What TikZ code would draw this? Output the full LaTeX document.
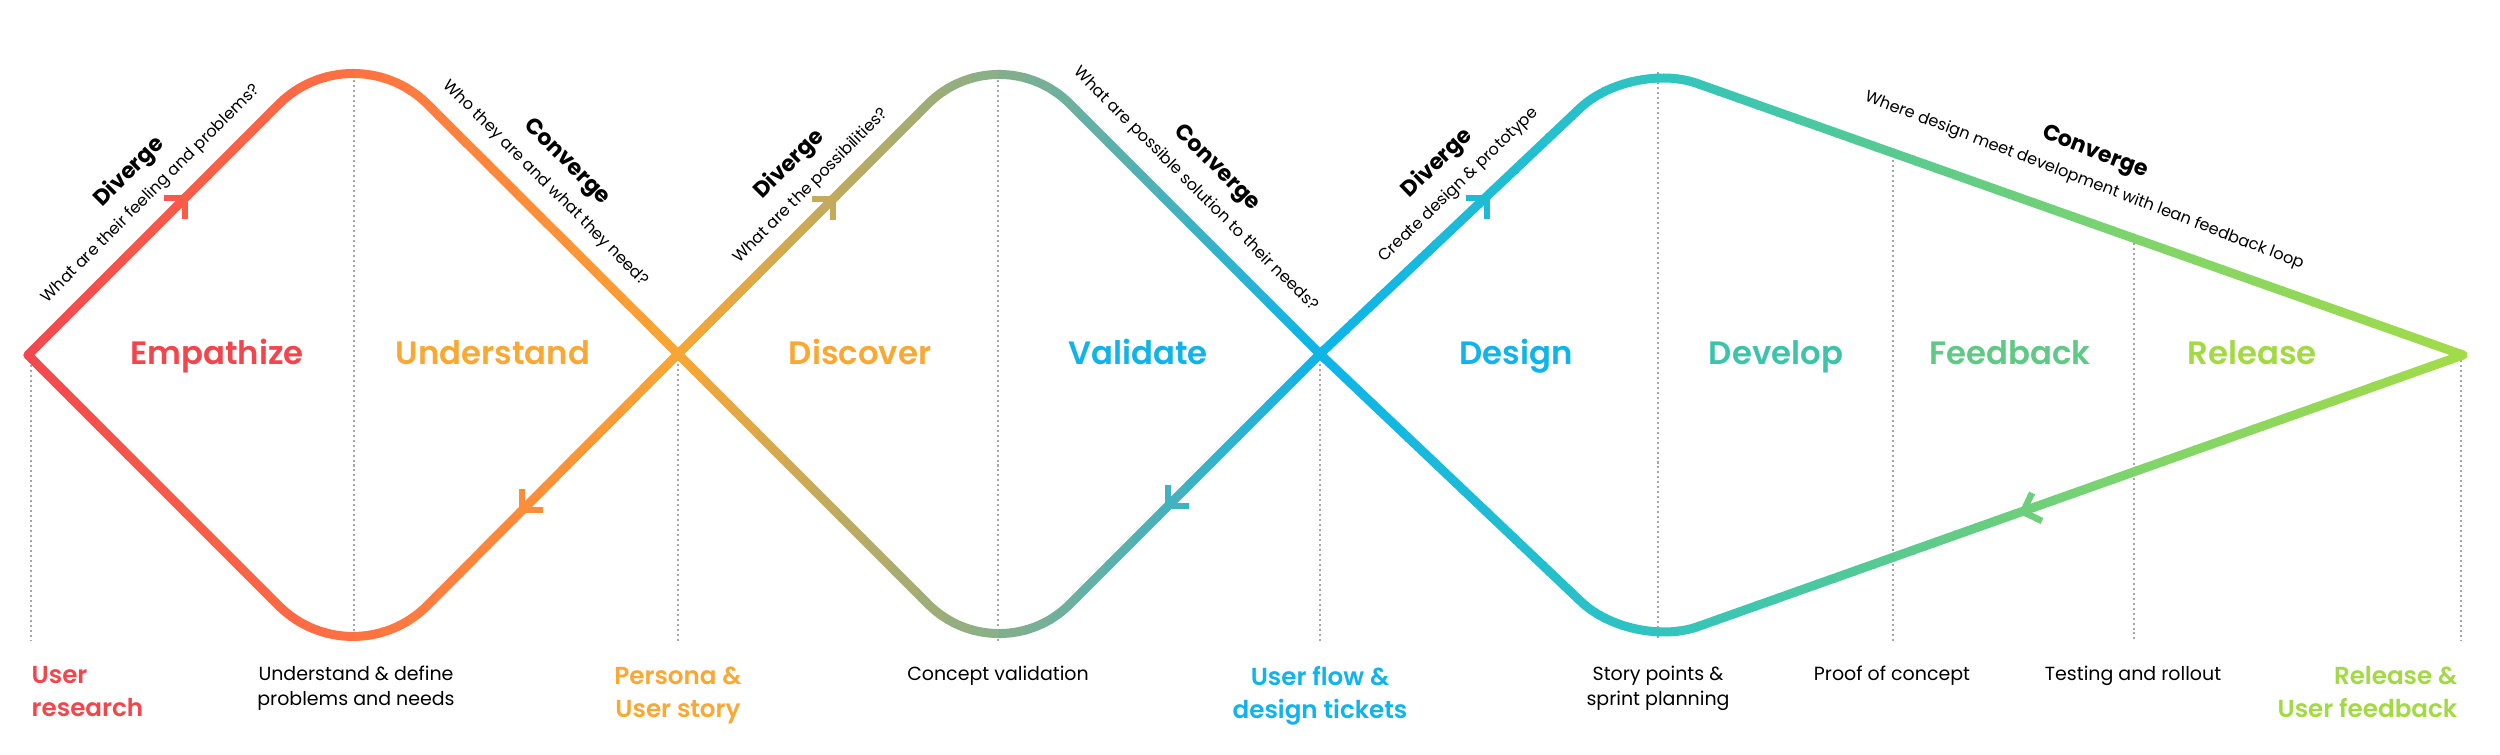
\documentclass[tikz,border=0pt]{standalone}
\usepackage{fontspec}
\setmainfont{Poppins}
\newfontfamily\semibold{Poppins SemiBold}

% stops of the colour run along the loops
\definecolor{c0}{HTML}{F24550}
\definecolor{c1}{HTML}{FF7142}
\definecolor{c2}{HTML}{F9A633}
\definecolor{c3}{HTML}{86AF8A}
\definecolor{c4}{HTML}{0DB4EA}
\definecolor{c5}{HTML}{30C4C0}
\definecolor{c6}{HTML}{58CA90}
\definecolor{c7}{HTML}{7ED46B}
\definecolor{c8}{HTML}{A6DC45}
% label colours
\definecolor{tRed}{HTML}{F4454D}
\definecolor{tOrange}{HTML}{F9A833}
\definecolor{tBlue}{HTML}{10B3EA}
\definecolor{tTeal}{HTML}{3CC4AA}
\definecolor{tGreen}{HTML}{60C985}
\definecolor{tLime}{HTML}{A3DA44}

\newcommand{\modefont}{\bfseries\fontsize{6.3}{8.2}\selectfont}

\tikzset{
  flowline/.style={line width=2.56pt, line cap=round, line join=round},
  tipline/.style={line width=1.85pt, line cap=butt, line join=miter},
  guide/.style={draw=gray!70, line width=0.57pt, dash pattern=on 0.57pt off 0.85pt},
  phase/.style={font=\semibold\fontsize{9.2}{11}\selectfont, anchor=base},
  caption/.style={font=\fontsize{4.6}{8.2}\selectfont, text=black, inner sep=0pt, align=center},
  outcome/.style={font=\semibold\fontsize{7}{9.4}\selectfont, anchor=north, inner sep=0pt},
  note/.style={font=\fontsize{5.4}{7.1}\selectfont, anchor=north, inner sep=0pt, align=center},
}

% the whole double-diamond stroke, drawn in the current colour
\newcommand{\flowpath}{%
  \draw[flowline, rounded corners=1.05cm] (L) -- (T1) -- (X1);
  \draw[flowline, rounded corners=1.05cm] (X1) -- (B1) -- (L);
  \draw[flowline, rounded corners=1cm] (X1) -- (T2) -- (X2);
  \draw[flowline, rounded corners=1cm] (X2) -- (B2) -- (X1);
  \draw[flowline, rounded corners=0.7cm] (X2) -- (T3) -- (R);
  \draw[flowline, rounded corners=0.7cm] (R) -- (B3) -- (X2);
  % arrow heads
  \draw[tipline] (164,198) -- (185,198) -- (185,219);
  \draw[tipline] (522,489) -- (522,510) -- (543,510);
  \draw[tipline] (812,199) -- (833,199) -- (833,220);
  \draw[tipline] (1168,485) -- (1168,506) -- (1189,506);
  \draw[tipline] (1466,198) -- (1487,198) -- (1487,219);
  \draw[tipline] (2032,493) -- (2023,512) -- (2042,521);
}

\begin{document}
\begin{tikzpicture}[x=0.01cm, y=-0.01cm]
  \useasboundingbox (0,0) rectangle (2500,755);
  % corner points of the loops
  \coordinate (L)  at (28,355);
  \coordinate (T1) at (353,30);
  \coordinate (B1) at (353,680);
  \coordinate (X1) at (678,354);
  \coordinate (T2) at (999,33);
  \coordinate (B2) at (999,675);
  \coordinate (X2) at (1320,354);
  \coordinate (T3) at (1631,60);
  \coordinate (B3) at (1632,650);
  \coordinate (R)  at (2463,355);

  % dotted stage dividers
  \foreach \gx/\gtop in {31/360, 354/75, 678/354, 998/75, 1320/354,
      1658/72, 1893/150, 2134/238, 2461/355}
    \draw[guide] (\gx,\gtop) -- (\gx,641);

  % colour run: the stroke redrawn in thin vertical strips
  \foreach \xa/\xb/\ca/\cb in {10/354/c0/c1, 354/678/c1/c2, 678/998/c2/c3,
      998/1320/c3/c4, 1320/1658/c4/c5, 1658/1894/c5/c6, 1894/2134/c6/c7,
      2134/2490/c7/c8} {
    \foreach \k in {0,...,11} {
      \pgfmathsetmacro{\xl}{\xa+(\xb-\xa)*\k/12}
      \pgfmathsetmacro{\xr}{\xa+(\xb-\xa)*(\k+1)/12+1.5}
      \pgfmathsetmacro{\pc}{100*(\k+0.5)/12}
      \colorlet{strip}{\cb!\pc!\ca}
      \begin{scope}[color=strip]
        \clip (\xl,0) rectangle (\xr,755);
        \flowpath
      \end{scope}
    }
  }

  % phase names
  \node[phase, text=tRed]    (empathize)  at (217,365)  {Empathize};
  \node[phase, text=tOrange] (understand) at (493,365)  {Understand};
  \node[phase, text=tOrange] (discover)   at (860,365)  {Discover};
  \node[phase, text=tBlue]   (validate)   at (1138,365) {Validate};
  \node[phase, text=tBlue]   (design)     at (1516,365) {Design};
  \node[phase, text=tTeal]   (develop)    at (1776,365) {Develop};
  \node[phase, text=tGreen]  (feedback)   at (2010,365) {Feedback};
  \node[phase, text=tLime]   (release)    at (2252,365) {Release};

  % diverge / converge captions along the strokes
  \node[caption, rotate=45]  (div1)  at (139,182)
    {{\modefont Diverge}\\What are their feeling and problems?};
  \node[caption, rotate=-45] (conv1) at (557,172)
    {{\modefont Converge}\\Who they are and what they need?};
  \node[caption, rotate=45]  (div2)  at (799,174)
    {{\modefont Diverge}\\What are the possibilities?};
  \node[caption, rotate=-45] (conv2) at (1207,178)
    {{\modefont Converge}\\What are possible solution to their needs?};
  \node[caption, rotate=44]  (div3)  at (1447,173)
    {{\modefont Diverge}\\Create design \& prototype};
  \node[caption, rotate=-21] (conv3) at (2090,166)
    {{\modefont Converge}\\Where design meet development with lean feedback loop};

  % deliverables under each divider
  \node[outcome, anchor=north west, align=left, text=tRed] (research) at (31,666) {User\\research};
  \node[note] (define)  at (356,665)  {Understand \& define\\problems and needs};
  \node[outcome, align=center, text=tOrange] (persona) at (678,666) {Persona \&\\User story};
  \node[note] (concept) at (998,665)  {Concept validation};
  \node[outcome, align=center, text=tBlue] (userflow) at (1320,666) {User flow \&\\design tickets};
  \node[note] (story)   at (1658,665) {Story points \&\\sprint planning};
  \node[note] (proof)   at (1892,665) {Proof of concept};
  \node[note] (testing) at (2133,665) {Testing and rollout};
  \node[outcome, anchor=north east, align=right, text=tLime] (userfb) at (2458,666) {Release \&\\User feedback};
\end{tikzpicture}
\end{document}
